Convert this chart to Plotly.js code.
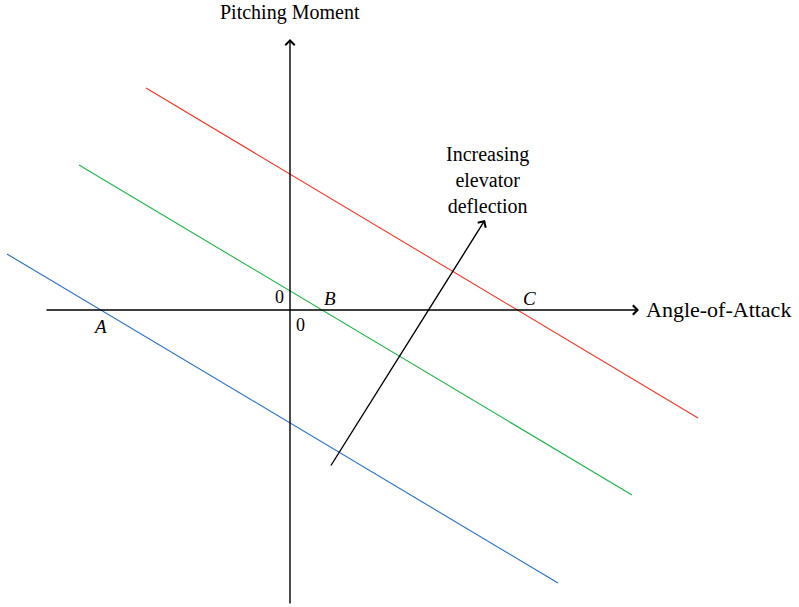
<!DOCTYPE html>
<html>
<head>
<meta charset="utf-8">
<script src="https://cdn.plot.ly/plotly-3.0.1.min.js"></script>
<style>html,body{margin:0;padding:0;background:#fff;}#chart{width:799px;height:607px;}</style>
</head>
<body>
<div id="chart"></div>
<script>
// Line endpoints (data units: angle-of-attack, pitching moment)
var redX = [-1.44, 4.08];
var redY = [2.22, -1.08];
var greenX = [-2.11, 3.42];
var greenY = [1.45, -1.85];
var blueX = [-2.83, 2.68];
var blueY = [0.56, -2.73];
// Axis extents
var xAxisExtent = [-2.45, 3.49];
var yAxisExtent = [-2.95, 2.71];
// Elevator-deflection arrow
var arrowX = [0.40, 1.95];
var arrowY = [-1.57, 0.90];
// Point labels
var pointNames = ['A', 'B', 'C'];
var pointX = [-1.90, 0.40, 2.39];
var pointY = [-0.16, 0.12, 0.12];

var serif = 'Liberation Serif, Times New Roman, serif';

var traces = [
  {x: redX, y: redY, mode: 'lines', line: {color: '#e8392b', width: 1.1}, hoverinfo: 'skip'},
  {x: greenX, y: greenY, mode: 'lines', line: {color: '#21b24b', width: 1.1}, hoverinfo: 'skip'},
  {x: blueX, y: blueY, mode: 'lines', line: {color: '#2a6fc2', width: 1.1}, hoverinfo: 'skip'}
];

var annotations = [
  {x: xAxisExtent[1], y: 0, ax: xAxisExtent[0], ay: 0, xref: 'x', yref: 'y', axref: 'x', ayref: 'y',
   showarrow: true, arrowhead: 4, arrowsize: 1.3, arrowwidth: 1.4, arrowcolor: '#000', text: ''},
  {x: 0, y: yAxisExtent[1], ax: 0, ay: yAxisExtent[0], xref: 'x', yref: 'y', axref: 'x', ayref: 'y',
   showarrow: true, arrowhead: 4, arrowsize: 1.3, arrowwidth: 1.4, arrowcolor: '#000', text: ''},
  {x: arrowX[1], y: arrowY[1], ax: arrowX[0], ay: arrowY[0], xref: 'x', yref: 'y', axref: 'x', ayref: 'y',
   showarrow: true, arrowhead: 4, arrowsize: 1.3, arrowwidth: 1.4, arrowcolor: '#000', text: ''},
  {x: 1.975, y: 1.30, xref: 'x', yref: 'y', showarrow: false,
   text: 'Increasing<br>elevator<br>deflection', font: {family: serif, size: 20, color: '#000'}, align: 'center'},
  {x: 0, y: 2.975, xref: 'x', yref: 'y', showarrow: false,
   text: 'Pitching Moment', font: {family: serif, size: 20, color: '#000'}},
  {x: 3.54, y: 0.01, xref: 'x', yref: 'y', showarrow: false, xanchor: 'left',
   text: 'Angle-of-Attack', font: {family: serif, size: 22, color: '#000'}},
  {x: -0.11, y: 0.13, xref: 'x', yref: 'y', showarrow: false,
   text: '0', font: {family: serif, size: 18, color: '#000'}},
  {x: 0.10, y: -0.15, xref: 'x', yref: 'y', showarrow: false,
   text: '0', font: {family: serif, size: 18, color: '#000'}}
];
for (var i = 0; i < pointNames.length; i++) {
  annotations.push({x: pointX[i], y: pointY[i], xref: 'x', yref: 'y', showarrow: false,
    text: '<i>' + pointNames[i] + '</i>', font: {family: serif, size: 19, color: '#000'}});
}

var layout = {
  width: 799, height: 607,
  margin: {l: 0, r: 0, t: 0, b: 0},
  paper_bgcolor: '#fff', plot_bgcolor: '#fff',
  showlegend: false,
  xaxis: {range: [-2.90, 5.09], visible: false, fixedrange: true},
  yaxis: {range: [-2.97, 3.10], visible: false, fixedrange: true},
  annotations: annotations
};

Plotly.newPlot('chart', traces, layout, {staticPlot: true});
</script>
</body>
</html>
